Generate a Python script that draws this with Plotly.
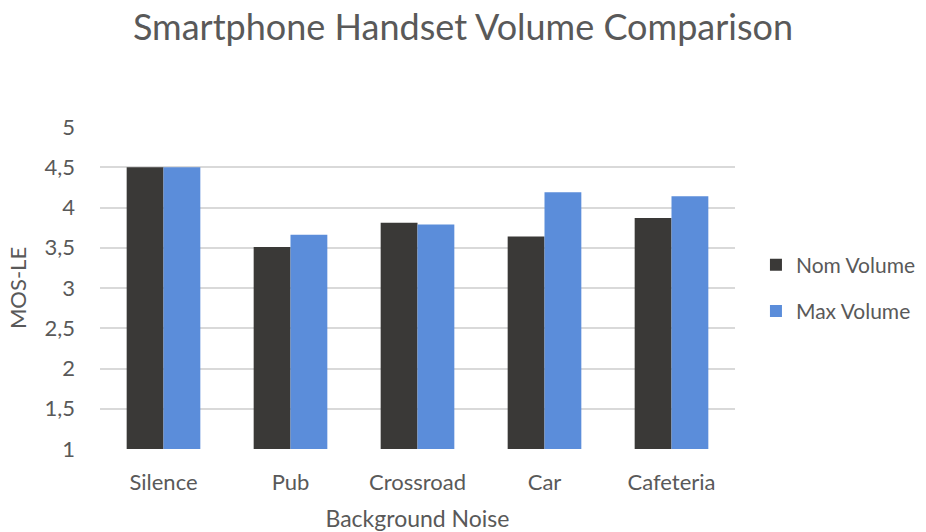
import plotly.graph_objects as go

categories = ["Silence", "Pub", "Crossroad", "Car", "Cafeteria"]
nom_volume = [4.50, 3.51, 3.81, 3.64, 3.87]
max_volume = [4.50, 3.66, 3.79, 4.19, 4.14]
y_ticks = [1, 1.5, 2, 2.5, 3, 3.5, 4, 4.5, 5]

FONT = "Lato"
TEXT = "#595959"

fig = go.Figure()
fig.add_trace(go.Bar(x=categories, y=[v - 1 for v in nom_volume], base=1,
                     name="Nom Volume", legendgroup="a",
                     marker=dict(color="#3a3937", line=dict(width=0))))
fig.add_trace(go.Bar(x=categories, y=[v - 1 for v in max_volume], base=1,
                     name="Max Volume", legendgroup="b",
                     marker=dict(color="#5b8dda", line=dict(width=0))))

fig.update_layout(
    width=926, height=532,
    margin=dict(l=100, r=191, t=127, b=83, autoexpand=False),
    paper_bgcolor="white", plot_bgcolor="white",
    separators=", ",
    barmode="group", bargap=0.42, bargroupgap=0,
    font=dict(family=FONT, color=TEXT, size=22),
    title=dict(text="Smartphone Handset Volume Comparison",
               x=0.5, xref="container", xanchor="center",
               y=0.949, yref="container", yanchor="middle",
               font=dict(family=FONT, size=36, color=TEXT)),
    legend=dict(x=1.033, y=0.5, xanchor="left", yanchor="middle",
                font=dict(family=FONT, size=21, color=TEXT),
                tracegroupgap=16, itemwidth=30),
    xaxis=dict(showgrid=False, showline=False, ticks="",
               ticklabelstandoff=18,
               tickfont=dict(size=22, color=TEXT),
               title=dict(text="Background Noise", standoff=16,
                          font=dict(size=23, color=TEXT))),
    yaxis=dict(range=[1, 5], tickvals=y_ticks, showgrid=True,
               gridcolor="#d9d9d9", gridwidth=1.5, zeroline=False,
               showline=False, ticks="", ticklabelstandoff=24,
               tickfont=dict(size=22, color=TEXT),
               title=dict(text="MOS-LE", standoff=11,
                          font=dict(size=22, color=TEXT))),
)

fig.write_html("out.html")
